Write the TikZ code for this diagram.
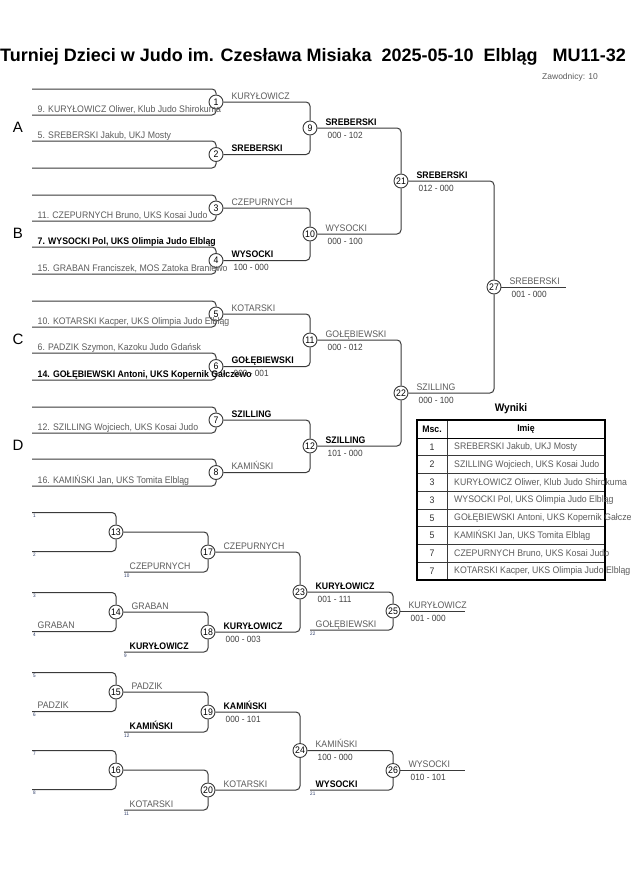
\documentclass[tikz,border=0pt]{standalone}
\usepackage{fontspec}
\setmainfont{Liberation Sans}[FakeStretch=0.92]
\newfontfamily\widefont{Liberation Sans}
\usetikzlibrary{positioning,calc}
\definecolor{linec}{HTML}{3A3A3A}
\definecolor{namec}{HTML}{5C5C5C}
\definecolor{numc}{HTML}{2B3A67}

\begin{document}
\begin{tikzpicture}[x=1pt,y=-1pt,
  fight/.style={circle, draw=linec, line width=0.9pt, minimum size=14pt, inner sep=0pt, font=\fontsize{9.5}{10}\selectfont},
  br/.style={draw=linec, line width=1pt, rounded corners=4pt},
  nm/.style={anchor=base west, inner sep=0pt, text=namec, font=\fontsize{9.5}{10}\selectfont},
  win/.style={nm, text=black, font=\fontsize{9.5}{10}\selectfont\bfseries},
  sc/.style={anchor=base west, inner sep=0pt, text=black!75, font=\fontsize{9}{10}\selectfont},
  slotno/.style={anchor=north west, inner sep=0pt, text=numc, font=\fontsize{5}{5}\selectfont},
  poolno/.style={font=\widefont\fontsize{15}{15}\selectfont},
  lup/.style={xshift=8pt, yshift=3pt},
  ldn/.style={xshift=10pt, yshift=-10pt},
  lent/.style={xshift=5.5pt, yshift=3pt},
  th/.style={font=\fontsize{9.5}{10}\selectfont\bfseries},
]
\useasboundingbox[fill=white] (0,0) rectangle (630,891);

% title
\node[anchor=base west, inner sep=0pt, font=\widefont\fontsize{18}{19}\selectfont\bfseries] (title) at (0,62)
  {Turniej Dzieci w Judo im. Czesława Misiaka\ \ 2025-05-10\ \ Elbląg\ \ \ MU11-32};
\node[anchor=base east, inner sep=0pt, text=namec, font=\widefont\fontsize{8.5}{9}\selectfont] (count) at (598,79) {Zawodnicy: 10};

% pools A-D
\foreach \pl/\yb/\fa/\fb/\fc in {A/89/1/2/9, B/195/3/4/10, C/301/5/6/11, D/407/7/8/12} {
  \node[poolno] (pool\pl) at (18,\yb+38) {\pl};
  \coordinate (e\fa) at (32,\yb);
  \coordinate (f\fa) at (32,\yb+26);
  \coordinate (e\fb) at (32,\yb+52);
  \coordinate (f\fb) at (32,\yb+79);
  \node[fight] (c\fa) at (216,\yb+13) {\fa};
  \node[fight] (c\fb) at (216,\yb+65.5) {\fb};
  \node[fight] (c\fc) at (310,\yb+39) {\fc};
  \draw[br] (e\fa) -| (c\fa.north);
  \draw[br] (f\fa) -| (c\fa.south);
  \draw[br] (e\fb) -| (c\fb.north);
  \draw[br] (f\fb) -| (c\fb.south);
  \draw[br] (c\fa.east) -| (c\fc.north);
  \draw[br] (c\fb.east) -| (c\fc.south);
}

\node[fight] (c21) at (401,181) {21};
\node[fight] (c22) at (401,393) {22};
\node[fight] (c27) at (494,287) {27};
\coordinate (end27) at (566,287);
\draw[br] (c9.east) -| (c21.north);
\draw[br] (c10.east) -| (c21.south);
\draw[br] (c11.east) -| (c22.north);
\draw[br] (c12.east) -| (c22.south);
\draw[br] (c21.east) -| (c27.north);
\draw[br] (c22.east) -| (c27.south);
\draw[br] (c27.east) -- (end27);

% competitors
\node[nm,lent] (n1) at (f1) {9. KURYŁOWICZ Oliwer, Klub Judo Shirokuma};
\node[nm,lent] (n2) at (e2) {5. SREBERSKI Jakub, UKJ Mosty};
\node[nm,lent] (n3) at (f3) {11. CZEPURNYCH Bruno, UKS Kosai Judo};
\node[win,lent] (n4a) at (e4) {7. WYSOCKI Pol, UKS Olimpia Judo Elbląg};
\node[nm,lent] (n4b) at (f4) {15. GRABAN Franciszek, MOS Zatoka Braniewo};
\node[nm,lent] (n5) at (f5) {10. KOTARSKI Kacper, UKS Olimpia Judo Elbląg};
\node[nm,lent] (n6a) at (e6) {6. PADZIK Szymon, Kazoku Judo Gdańsk};
\node[win,lent] (n6b) at (f6) {14. GOŁĘBIEWSKI Antoni, UKS Kopernik Gałczewo};
\node[nm,lent] (n7) at (f7) {12. SZILLING Wojciech, UKS Kosai Judo};
\node[nm,lent] (n8) at (f8) {16. KAMIŃSKI Jan, UKS Tomita Elbląg};

% results of the main rounds
\node[nm,lup] (w1) at (c1.east) {KURYŁOWICZ};
\node[win,lup] (w2) at (c2.east) {SREBERSKI};
\node[nm,lup] (w3) at (c3.east) {CZEPURNYCH};
\node[win,lup] (w4) at (c4.east) {WYSOCKI};
\node[sc,ldn] (p4) at (c4.east) {100 - 000};
\node[nm,lup] (w5) at (c5.east) {KOTARSKI};
\node[win,lup] (w6) at (c6.east) {GOŁĘBIEWSKI};
\node[sc,ldn] (p6) at (c6.east) {000 - 001};
\node[win,lup] (w7) at (c7.east) {SZILLING};
\node[nm,lup] (w8) at (c8.east) {KAMIŃSKI};
\node[win,lup] (w9) at (c9.east) {SREBERSKI};
\node[sc,ldn] (p9) at (c9.east) {000 - 102};
\node[nm,lup] (w10) at (c10.east) {WYSOCKI};
\node[sc,ldn] (p10) at (c10.east) {000 - 100};
\node[nm,lup] (w11) at (c11.east) {GOŁĘBIEWSKI};
\node[sc,ldn] (p11) at (c11.east) {000 - 012};
\node[win,lup] (w12) at (c12.east) {SZILLING};
\node[sc,ldn] (p12) at (c12.east) {101 - 000};
\node[win,lup] (w21) at (c21.east) {SREBERSKI};
\node[sc,ldn] (p21) at (c21.east) {012 - 000};
\node[nm,lup] (w22) at (c22.east) {SZILLING};
\node[sc,ldn] (p22) at (c22.east) {000 - 100};
\node[nm,lup] (w27) at (c27.east) {SREBERSKI};
\node[sc,ldn] (p27) at (c27.east) {001 - 000};

% repechage
\foreach \fn/\yc/\sa/\sb in {13/532/1/2, 14/612/3/4, 15/692/5/6, 16/770/7/8} {
  \node[fight] (c\fn) at (116,\yc) {\fn};
  \coordinate (r\sa) at (32,\yc-19.5);
  \coordinate (r\sb) at (32,\yc+19.5);
  \draw[br] (r\sa) -| (c\fn.north);
  \draw[br] (r\sb) -| (c\fn.south);
  \node[slotno] (t\sa) at ([xshift=1pt,yshift=-1.5pt]r\sa) {\sa};
  \node[slotno] (t\sb) at ([xshift=1pt,yshift=-1.5pt]r\sb) {\sb};
}
\foreach \fn/\fp/\sq in {17/13/10, 18/14/9, 19/15/12, 20/16/11} {
  \node[fight] (c\fn) at ($(c\fp)+(92,20)$) {\fn};
  \coordinate (q\sq) at ($(c\fp)+(8,40)$);
  \draw[br] (c\fp.east) -| (c\fn.north);
  \draw[br] (q\sq) -| (c\fn.south);
  \node[slotno] (t\sq) at ([yshift=-1.5pt]q\sq) {\sq};
}
\node[fight] (c23) at (300,592) {23};
\node[fight] (c24) at (300,750.5) {24};
\draw[br] (c17.east) -| (c23.north);
\draw[br] (c18.east) -| (c23.south);
\draw[br] (c19.east) -| (c24.north);
\draw[br] (c20.east) -| (c24.south);
\node[fight] (c25) at (393,611) {25};
\node[fight] (c26) at (393,770.5) {26};
\coordinate (q22) at (310,630);
\coordinate (q21) at (310,790);
\coordinate (end25) at (465,611);
\coordinate (end26) at (465,770.5);
\draw[br] (c23.east) -| (c25.north);
\draw[br] (q22) -| (c25.south);
\draw[br] (c24.east) -| (c26.north);
\draw[br] (q21) -| (c26.south);
\draw[br] (c25.east) -- (end25);
\draw[br] (c26.east) -- (end26);
\node[slotno] (t22) at ([yshift=-1.5pt]q22) {22};
\node[slotno] (t21) at ([yshift=-1.5pt]q21) {21};

\node[nm,lent] (n4r) at (r4) {GRABAN};
\node[nm,lent] (n6r) at (r6) {PADZIK};
\node[nm,lent] (n10r) at (q10) {CZEPURNYCH};
\node[win,lent] (n9r) at (q9) {KURYŁOWICZ};
\node[win,lent] (n12r) at (q12) {KAMIŃSKI};
\node[nm,lent] (n11r) at (q11) {KOTARSKI};
\node[nm,lent] (n22r) at (q22) {GOŁĘBIEWSKI};
\node[win,lent] (n21r) at (q21) {WYSOCKI};

\node[nm,lup] (w14) at (c14.east) {GRABAN};
\node[nm,lup] (w15) at (c15.east) {PADZIK};
\node[nm,lup] (w17) at (c17.east) {CZEPURNYCH};
\node[win,lup] (w18) at (c18.east) {KURYŁOWICZ};
\node[sc,ldn] (p18) at (c18.east) {000 - 003};
\node[win,lup] (w19) at (c19.east) {KAMIŃSKI};
\node[sc,ldn] (p19) at (c19.east) {000 - 101};
\node[nm,lup] (w20) at (c20.east) {KOTARSKI};
\node[win,lup] (w23) at (c23.east) {KURYŁOWICZ};
\node[sc,ldn] (p23) at (c23.east) {001 - 111};
\node[nm,lup] (w24) at (c24.east) {KAMIŃSKI};
\node[sc,ldn] (p24) at (c24.east) {100 - 000};
\node[nm,lup] (w25) at (c25.east) {KURYŁOWICZ};
\node[sc,ldn] (p25) at (c25.east) {001 - 000};
\node[nm,lup] (w26) at (c26.east) {WYSOCKI};
\node[sc,ldn] (p26) at (c26.east) {010 - 101};

% results table
\node[anchor=base, inner sep=0pt, font=\fontsize{11}{12}\selectfont\bfseries] (wyniki) at (511,411) {Wyniki};
\draw[linec, line width=0.8pt] (447,420) -- (447,580);
\foreach \k in {1,...,7} \draw[linec, line width=0.8pt] (417,438+17.75*\k) -- (605,438+17.75*\k);
\draw[black, line width=1pt] (417,438) -- (605,438);
\draw[black, line width=1.5pt] (417,420) rectangle (605,580);
\node[th] (msc) at (432,429) {Msc.};
\node[th] (imie) at (526,429) {Imię};
\foreach \m/\who [count=\k] in {1/{SREBERSKI Jakub, UKJ Mosty}, 2/{SZILLING Wojciech, UKS Kosai Judo},
    3/{KURYŁOWICZ Oliwer, Klub Judo Shirokuma}, 3/{WYSOCKI Pol, UKS Olimpia Judo Elbląg},
    5/{GOŁĘBIEWSKI Antoni, UKS Kopernik Gałczewo}, 5/{KAMIŃSKI Jan, UKS Tomita Elbląg},
    7/{CZEPURNYCH Bruno, UKS Kosai Judo}, 7/{KOTARSKI Kacper, UKS Olimpia Judo Elbląg}} {
  \node[text=black!80, font=\fontsize{9.5}{10}\selectfont] (pl\k) at (432,429.1+17.75*\k) {\m};
  \node[anchor=west, inner sep=0pt, text=namec, font=\fontsize{9.5}{10}\selectfont] (who\k) at (454,429.1+17.75*\k) {\who};
}
\end{tikzpicture}
\end{document}
